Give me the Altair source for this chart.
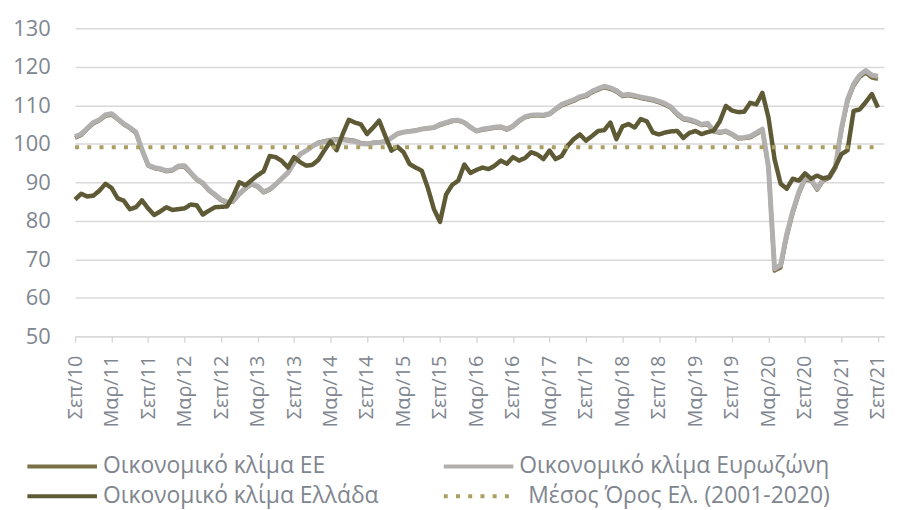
import altair as alt
import pandas as pd

tick_labels = ["Σεπ/10", "Μαρ/11", "Σεπ/11", "Μαρ/12", "Σεπ/12", "Μαρ/13", "Σεπ/13", "Μαρ/14",
               "Σεπ/14", "Μαρ/15", "Σεπ/15", "Μαρ/16", "Σεπ/16", "Μαρ/17", "Σεπ/17", "Μαρ/18",
               "Σεπ/18", "Μαρ/19", "Σεπ/19", "Μαρ/20", "Σεπ/20", "Μαρ/21", "Σεπ/21"]

series_names = ["Οικονομικό κλίμα ΕΕ", "Οικονομικό κλίμα Ευρωζώνη",
                "Οικονομικό κλίμα Ελλάδα", "Μέσος Όρος Ελ. (2001-2020)"]

# monthly values Sep 2010 .. Sep 2021
eu = [101.5, 102.2, 103.8, 105.2, 106, 107.2, 107.5, 106.3, 105, 104,
      102.8, 98.3, 94.3, 93.6, 93.3, 92.8, 93, 94, 94, 92.3,
      90.6, 89.6, 87.8, 86.6, 85.3, 84.6, 85, 86.8, 88.3, 89.4,
      88.8, 87.3, 88, 89.4, 90.9, 92.4, 95, 97.2, 98.2, 99.3,
      100.3, 100.7, 101, 101.2, 101.2, 101, 100.8, 100.2, 100, 100.3,
      100.4, 100.6, 101.5, 102.5, 103, 103.2, 103.5, 103.8, 104, 104.1,
      104.8, 105.3, 105.8, 106, 105.4, 104.2, 103.2, 103.6, 103.8, 104.1,
      104.2, 103.6, 104.4, 105.8, 106.8, 107.2, 107.3, 107.2, 107.6, 108.8,
      109.9, 110.5, 111.1, 111.9, 112.3, 113.3, 114, 114.6, 114.2, 113.5,
      112.3, 112.5, 112.2, 111.8, 111.5, 111.2, 110.7, 110.1, 109.2, 107.5,
      106.3, 106, 105.5, 104.8, 105, 103.1, 102.8, 103.1, 102.3, 101.3,
      101.4, 101.6, 102.5, 103.5, 93.8, 67, 67.8, 75.8, 82, 87,
      90.6, 90.4, 88, 90.4, 91.1, 93.6, 103.5, 111, 115, 117.3,
      118.4, 117.1, 116.8]

ez = [101.8, 102.5, 104, 105.5, 106.2, 107.5, 107.8, 106.5, 105.2, 104.2,
      103, 98.5, 94.5, 93.8, 93.5, 93, 93.2, 94.2, 94.3, 92.5,
      90.8, 89.8, 88, 86.8, 85.5, 84.8, 85.2, 87, 88.5, 89.6,
      89, 87.5, 88.2, 89.5, 91, 92.5, 95, 97.3, 98.2, 99.3,
      100.2, 100.5, 100.8, 101, 101, 100.8, 100.6, 100, 99.9, 100.2,
      100.3, 100.5, 101.5, 102.6, 103, 103.2, 103.4, 103.8, 104, 104.2,
      105, 105.5, 106, 106.1, 105.5, 104.3, 103.3, 103.8, 104, 104.3,
      104.4, 103.8, 104.6, 106, 107, 107.4, 107.5, 107.4, 107.8, 109,
      110.2, 110.8, 111.4, 112.2, 112.6, 113.6, 114.3, 114.9, 114.5, 113.8,
      112.6, 112.8, 112.5, 112.1, 111.8, 111.5, 111, 110.4, 109.5, 107.8,
      106.6, 106.3, 105.8, 105, 105.3, 103.3, 103, 103.3, 102.5, 101.5,
      101.6, 101.9, 102.8, 103.8, 94, 67.5, 68.5, 76.5, 82.5, 87.5,
      91, 90.8, 88.3, 90.8, 91.5, 94, 104, 111.5, 115.5, 117.8,
      119, 117.8, 117.5]

gr = [85.5, 87, 86.3, 86.5, 87.8, 89.6, 88.5, 85.8, 85.2, 83,
      83.5, 85.3, 83.2, 81.5, 82.4, 83.5, 82.8, 83, 83.2, 84.2,
      84, 81.6, 82.6, 83.5, 83.6, 83.7, 86.5, 90, 89.2, 90.5,
      91.8, 92.8, 96.8, 96.5, 95.5, 93.8, 96.5, 95.2, 94.3, 94.5,
      95.8, 98.3, 100.6, 98.3, 102.5, 106.2, 105.5, 105, 102.5, 104.2,
      106, 102, 98.2, 99.2, 97.8, 94.7, 93.8, 93, 88.5, 83,
      79.7, 86.8, 89.3, 90.4, 94.6, 92.4, 93.2, 93.8, 93.4, 94.3,
      95.6, 94.8, 96.5, 95.6, 96.3, 97.8, 97.2, 96, 98.2, 96,
      96.8, 99.5, 101.2, 102.4, 100.8, 102, 103.3, 103.5, 105.5, 101.2,
      104.5, 105.1, 104.2, 106.4, 105.8, 102.9, 102.4, 102.9, 103.2, 103.3,
      101.5, 102.8, 103.3, 102.5, 103, 103.4, 105.8, 109.8, 108.6, 108.2,
      108.3, 110.6, 110.2, 113.2, 106.8, 96, 89.6, 88.3, 90.9, 90.4,
      92.3, 90.9, 91.7, 91, 91.3, 94, 97.3, 98.3, 108.5, 108.9,
      110.8, 112.9, 109.4]

avg_value = 99.1

n = len(gr)
rows = []
for name, vals in zip(series_names[:3], [eu, ez, gr]):
    for i, v in enumerate(vals):
        rows.append({"m": i, "v": v, "s": name})
for i in [0, n - 1]:
    rows.append({"m": i, "v": avg_value, "s": series_names[3]})
df = pd.DataFrame(rows)

colors = ["#7a7046", "#b2b0ae", "#5f5a36", "#a99f62"]
dashes = [[1, 0], [1, 0], [1, 0], [4, 8.3]]
widths = [4, 5, 4.5, 4]
# legend placement (relative to plot origin): x, y, label offset
legend_pos = [(-50, 404, 4), (369, 404, 4), (-50, 434, 4), (369, 434, 13)]

label_color = "#80868f"
font = "Open Sans"
label_expr = "[" + ",".join("'%s'" % t for t in tick_labels) + "][round(datum.value/6)]"

x_enc = alt.X("m:Q", scale=alt.Scale(domain=[0, 133], nice=False, zero=False),
              axis=alt.Axis(values=list(range(0, n, 6)), labelExpr=label_expr,
                            labelAngle=-90, grid=False, domain=True, domainColor="#d9d9d9",
                            domainWidth=1.5, ticks=True, tickColor="#d9d9d9", tickSize=6,
                            tickWidth=1.5, labelPadding=13, labelFontSize=20,
                            labelColor=label_color, labelFont=font, title=None))
y_enc = alt.Y("v:Q", scale=alt.Scale(domain=[50, 130], nice=False, zero=False),
              axis=alt.Axis(values=list(range(50, 131, 10)), grid=True, gridColor="#d9d9d9",
                            gridWidth=1.5, domain=False, ticks=False, labelPadding=25,
                            labelFontSize=22, labelColor=label_color, labelFont=font,
                            title=None))


def layer_for(k):
    name = series_names[k]
    lx, ly, lo = legend_pos[k]
    return alt.Chart(df).transform_filter(alt.datum.s == name).mark_line(
        strokeJoin="round", strokeWidth=widths[k], strokeDash=dashes[k]
    ).encode(
        x=x_enc, y=y_enc,
        color=alt.Color("s:N", scale=alt.Scale(domain=[name], range=[colors[k]]),
                        legend=alt.Legend(title=None, orient="none", legendX=lx, legendY=ly,
                                          symbolType="stroke", symbolSize=4900,
                                          symbolStrokeWidth=4, symbolDash=dashes[k],
                                          labelFontSize=23, labelFont=font, labelLimit=0,
                                          labelColor=label_color, labelOffset=lo)),
    )


layers = [layer_for(k) for k in range(4)]

chart = alt.layer(*layers).resolve_scale(color="independent").properties(
    width=814, height=310,
    autosize=alt.AutoSizeParams(type="none"),
    padding={"left": 67.5, "top": 18.7, "right": 5, "bottom": 182},
).configure_view(stroke=None)

chart.save("out.html", embed_options={"renderer": "svg", "actions": False})
